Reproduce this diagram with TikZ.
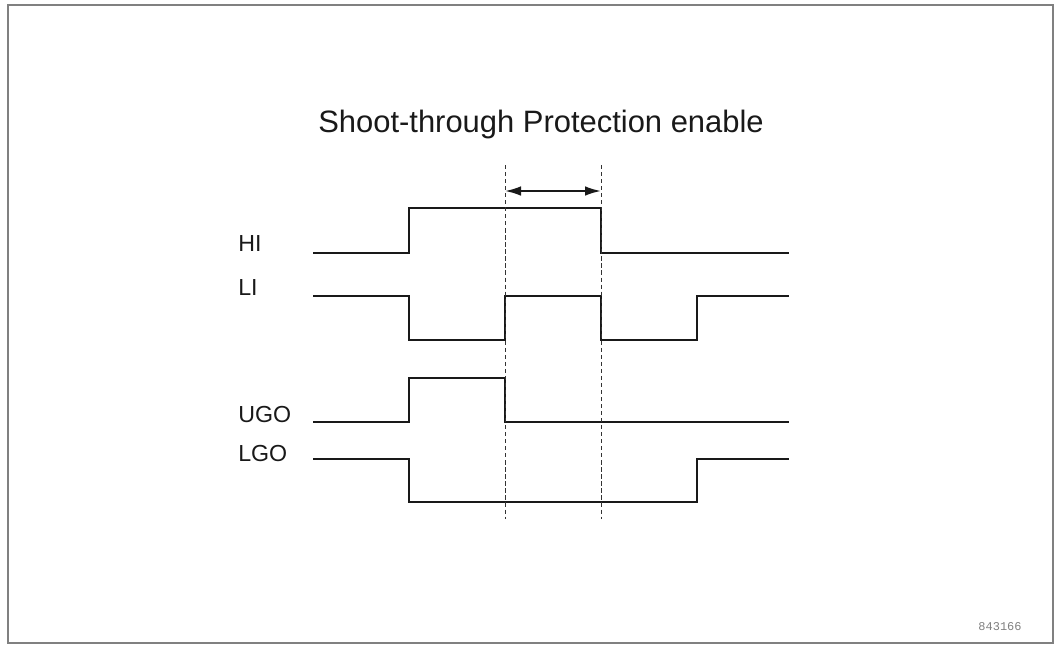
\documentclass[tikz,border=0pt]{standalone}
\usepackage{fontspec}
\setmainfont{Liberation Sans}
\newfontfamily\codefont{Liberation Mono}
\usetikzlibrary{arrows.meta, positioning}
\tikzset{
  wave/.style     = {line width=1.4pt, black!90},
  marker/.style   = {densely dashed, line width=0.7pt, black!80},
  span/.style     = {{Latex[length=4mm,width=2.4mm]}-{Latex[length=4mm,width=2.4mm]}, line width=1.4pt, black!90},
  siglbl/.style   = {font=\fontsize{16.5}{18}\selectfont, anchor=west, inner sep=0pt, text=black!90},
}
\begin{document}
\begin{tikzpicture}[x=0.025cm, y=-0.025cm]
  \useasboundingbox (0,0) rectangle (1059,646);
  % frame
  \draw[gray, line width=1pt] (8,5) rectangle (1053,643);
  \node[font=\fontsize{22}{24}\selectfont, text=black!90] (title) at (541,124) {Shoot-through Protection enable};
  % signal names
  \node[siglbl] (hi)  at (238,244) {HI};
  \node[siglbl] (li)  at (238,288) {LI};
  \node[siglbl] (ugo) at (238,415) {UGO};
  \node[siglbl] (lgo) at (238,454) {LGO};
  % waveforms
  \draw[wave] (313,253) -- (409,253) -- (409,208) -- (601,208) -- (601,253) -- (789,253);
  \draw[wave] (313,296) -- (409,296) -- (409,340) -- (505,340) -- (505,296) -- (601,296)
              -- (601,340) -- (697,340) -- (697,296) -- (789,296);
  \draw[wave] (313,422) -- (409,422) -- (409,378) -- (505,378) -- (505,422) -- (789,422);
  \draw[wave] (313,459) -- (409,459) -- (409,502) -- (697,502) -- (697,459) -- (789,459);
  % dead time markers
  \coordinate (ta) at (505,191);
  \coordinate (tb) at (601,191);
  \draw[marker] (505,165) -- (505,519);
  \draw[marker] (601,165) -- (601,519);
  \draw[span] (ta) -- (tb);
  \node[font=\codefont\fontsize{8.5}{10}\selectfont, text=gray] (fig) at (1000,627) {843166};
\end{tikzpicture}
\end{document}
